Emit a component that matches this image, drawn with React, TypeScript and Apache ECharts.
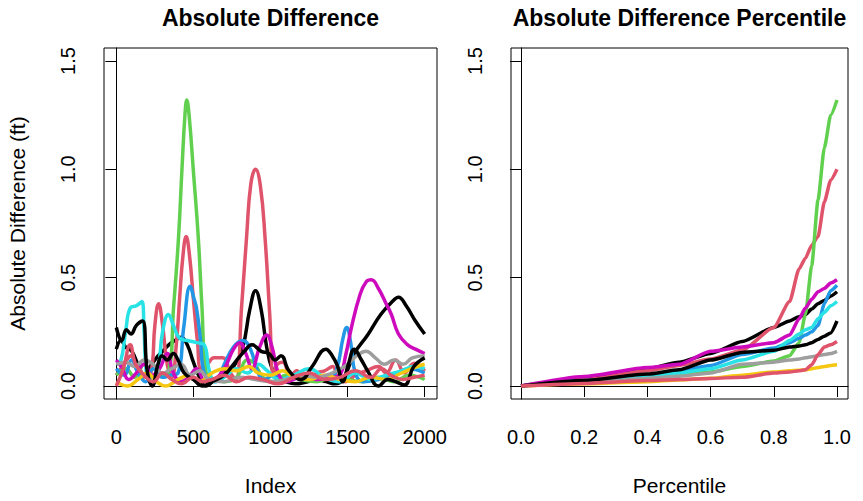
import React, { useEffect, useRef } from 'react';
import * as echarts from 'echarts';

// ---------- tick labels ----------
const indexTicks = [0, 500, 1000, 1500, 2000];
const percentileTicks = [0, 0.2, 0.4, 0.6, 0.8, 1.0];
const diffTicks = [0, 0.5, 1.0, 1.5];

// ---------- series colours (R palette, cycled) ----------
const seriesColors = ['#000000', '#DF536B', '#61D04F', '#2297E6', '#28E2E5', '#CD0BBC', '#F5C710', '#9E9E9E', '#000000', '#DF536B'];

// ---------- left panel: absolute difference vs index ----------
const diffBlackA = [[0,0.17],[30,0.21],[60,0.18],[100,0.16],[140,0.1],[180,0.05],[220,0.09],[260,0.13],[300,0.16],[340,0.19],[380,0.21],[420,0.225],[460,0.19],[500,0.11],[540,0.04],[580,0.0],[640,0.03],[700,0.06],[760,0.09],[820,0.18],[865,0.35],[903,0.44],[940,0.35],[975,0.18],[1010,0.08],[1050,0.04],[1100,0.02],[1160,0.01],[1240,0.02],[1300,0.03],[1360,0.02],[1420,0.01],[1470,0.03],[1544,0.15],[1630,0.235],[1715,0.33],[1790,0.39],[1830,0.41],[1880,0.37],[1940,0.3],[2000,0.24]];
const diffRedA = [[0,0.05],[50,0.1],[95,0.14],[130,0.08],[170,0.04],[224,0.06],[250,0.28],[274,0.38],[300,0.28],[330,0.1],[360,0.04],[390,0.2],[410,0.4],[432,0.6],[453,0.69],[475,0.6],[500,0.4],[527,0.2],[550,0.08],[590,0.1],[634,0.13],[690,0.13],[740,0.06],[775,0.03],[813,0.37],[846,0.7],[872,0.93],[903,1.0],[935,0.92],[965,0.68],[995,0.33],[1020,0.05],[1045,0.1],[1080,0.11],[1130,0.04],[1170,0.07],[1230,0.03],[1300,0.06],[1350,0.07],[1404,0.09],[1440,0.03],[1490,0.02],[1550,0.05],[1620,0.07],[1700,0.09],[1750,0.06],[1812,0.12],[1870,0.06],[1932,0.105],[2000,0.07]];
const diffGreen = [[0,0.05],[60,0.08],[120,0.04],[180,0.1],[230,0.04],[280,0.05],[335,0.06],[372,0.37],[403,0.68],[425,0.99],[445,1.25],[457,1.32],[472,1.25],[500,0.99],[532,0.68],[555,0.37],[583,0.06],[640,0.03],[700,0.02],[780,0.04],[850,0.12],[900,0.1],[950,0.04],[1020,0.02],[1100,0.05],[1200,0.03],[1300,0.02],[1400,0.04],[1500,0.03],[1600,0.02],[1700,0.04],[1800,0.02],[1900,0.05],[2000,0.03]];
const diffBlue = [[0,0.08],[50,0.05],[100,0.12],[140,0.06],[190,0.02],[240,0.08],[300,0.04],[350,0.05],[400,0.06],[437,0.27],[479,0.46],[505,0.4],[520,0.36],[545,0.22],[570,0.06],[640,0.02],[700,0.1],[760,0.18],[821,0.21],[870,0.17],[920,0.06],[960,0.03],[1020,0.05],[1100,0.03],[1200,0.04],[1300,0.05],[1380,0.03],[1430,0.08],[1470,0.22],[1494,0.27],[1520,0.2],[1550,0.06],[1600,0.02],[1700,0.03],[1800,0.05],[1900,0.08],[2000,0.06]];
const diffCyan = [[0,0.1],[30,0.12],[60,0.25],[90,0.36],[130,0.37],[166,0.39],[180,0.25],[195,0.06],[230,0.03],[270,0.08],[300,0.25],[338,0.33],[370,0.28],[410,0.22],[460,0.21],[520,0.2],[570,0.19],[600,0.08],[640,0.02],[700,0.04],[780,0.08],[850,0.06],[920,0.1],[980,0.07],[1050,0.03],[1150,0.05],[1250,0.08],[1350,0.04],[1450,0.02],[1550,0.06],[1650,0.03],[1750,0.05],[1850,0.07],[1930,0.09],[2000,0.08]];
const diffMagenta = [[0,0.12],[40,0.08],[80,0.03],[130,0.06],[180,0.1],[230,0.05],[280,0.08],[330,0.15],[370,0.06],[420,0.02],[470,0.04],[520,0.08],[580,0.02],[640,0.03],[700,0.08],[760,0.17],[800,0.2],[840,0.15],[880,0.08],[930,0.18],[975,0.235],[1010,0.18],[1050,0.06],[1100,0.02],[1200,0.04],[1300,0.03],[1400,0.04],[1449,0.05],[1490,0.15],[1525,0.27],[1580,0.42],[1620,0.48],[1654,0.49],[1700,0.45],[1750,0.38],[1784,0.33],[1830,0.24],[1890,0.19],[1940,0.17],[2000,0.15]];
const diffYellow = [[0,0.02],[70,0.0],[140,0.03],[200,0.06],[260,0.02],[320,0.0],[400,0.03],[470,0.05],[540,0.02],[620,0.06],[700,0.08],[780,0.07],[860,0.09],[920,0.06],[1000,0.05],[1080,0.07],[1150,0.04],[1250,0.03],[1350,0.05],[1450,0.03],[1550,0.02],[1650,0.04],[1750,0.03],[1850,0.06],[1950,0.09],[2000,0.1]];
const diffGray = [[0,0.1],[60,0.11],[120,0.09],[180,0.12],[240,0.1],[300,0.06],[360,0.08],[420,0.1],[480,0.05],[540,0.07],[600,0.03],[700,0.02],[800,0.04],[900,0.03],[1000,0.02],[1100,0.03],[1200,0.05],[1300,0.04],[1400,0.06],[1500,0.1],[1560,0.14],[1620,0.16],[1680,0.13],[1740,0.1],[1800,0.12],[1860,0.1],[1920,0.13],[2000,0.14]];
const diffBlackB = [[0,0.27],[35,0.21],[65,0.26],[95,0.24],[130,0.28],[170,0.3],[200,0.07],[233,0.0],[270,0.1],[297,0.14],[330,0.12],[370,0.15],[400,0.12],[440,0.06],[500,0.03],[560,0.0],[620,0.02],[700,0.05],[760,0.1],[830,0.16],[880,0.19],[940,0.16],[990,0.15],[1030,0.12],[1068,0.14],[1120,0.07],[1198,0.03],[1270,0.09],[1359,0.17],[1400,0.14],[1436,0.09],[1468,0.02],[1505,0.1],[1544,0.17],[1590,0.12],[1630,0.07],[1700,0.0],[1760,0.03],[1810,0.02],[1868,0.005],[1930,0.09],[2000,0.13]];
const diffRedB = [[0,0.0],[45,0.08],[90,0.19],[125,0.1],[180,0.05],[240,0.02],[300,0.06],[360,0.03],[420,0.01],[500,0.04],[560,0.02],[620,0.03],[700,0.05],[780,0.02],[860,0.04],[950,0.03],[1050,0.01],[1150,0.04],[1250,0.06],[1350,0.03],[1450,0.04],[1550,0.07],[1650,0.04],[1720,0.08],[1780,0.05],[1860,0.03],[1930,0.04],[2000,0.05]];

// ---------- right panel: sorted absolute difference vs percentile ----------
const pctLevels = [0, 0.2, 0.4, 0.5, 0.6, 0.7, 0.8, 0.85, 0.88, 0.9, 0.92, 0.94, 0.96, 0.98, 1.0];
const pctBlackA = [0, 0.035, 0.08, 0.11, 0.15, 0.205, 0.27, 0.3, 0.32, 0.33, 0.355, 0.38, 0.395, 0.415, 0.435];
const pctRedA = [0, 0.03, 0.07, 0.095, 0.125, 0.165, 0.27, 0.39, 0.54, 0.59, 0.65, 0.69, 0.85, 0.95, 1.0];
const pctGreen = [0, 0.02, 0.04, 0.05, 0.065, 0.09, 0.115, 0.14, 0.2, 0.33, 0.556, 0.86, 1.1, 1.25, 1.32];
const pctBlue = [0, 0.025, 0.05, 0.07, 0.095, 0.145, 0.175, 0.2, 0.22, 0.235, 0.25, 0.28, 0.38, 0.44, 0.465];
const pctCyan = [0, 0.02, 0.045, 0.06, 0.08, 0.12, 0.16, 0.21, 0.24, 0.26, 0.27, 0.31, 0.34, 0.37, 0.39];
const pctMagenta = [0, 0.044, 0.085, 0.1, 0.16, 0.18, 0.2, 0.235, 0.31, 0.36, 0.4, 0.435, 0.45, 0.475, 0.49];
const pctYellow = [0, 0.01, 0.02, 0.028, 0.036, 0.05, 0.065, 0.07, 0.073, 0.075, 0.08, 0.085, 0.09, 0.095, 0.098];
const pctGray = [0, 0.015, 0.035, 0.045, 0.06, 0.1, 0.11, 0.12, 0.125, 0.13, 0.135, 0.14, 0.145, 0.15, 0.16];
const pctBlackB = [0, 0.025, 0.055, 0.075, 0.12, 0.155, 0.165, 0.18, 0.185, 0.19, 0.2, 0.215, 0.23, 0.245, 0.3];
const pctRedB = [0, 0.012, 0.025, 0.03, 0.035, 0.04, 0.06, 0.065, 0.07, 0.075, 0.098, 0.145, 0.18, 0.19, 0.205];

const diffSeries = [diffBlackA, diffRedA, diffGreen, diffBlue, diffCyan, diffMagenta, diffYellow, diffGray, diffBlackB, diffRedB];
const pctSeries = [pctBlackA, pctRedA, pctGreen, pctBlue, pctCyan, pctMagenta, pctYellow, pctGray, pctBlackB, pctRedB];

const FONT = '"Liberation Sans", Arial, Helvetica, sans-serif';

function xAxisCfg(gridIndex: number, min: number, max: number, ticks: number[], name: string, fmt: (v: number) => string) {
  return {
    type: 'value', gridIndex, min, max, name,
    nameLocation: 'middle', nameGap: 76,
    nameTextStyle: { fontSize: 21, color: '#000', fontFamily: FONT },
    axisLine: { show: true, lineStyle: { color: '#000', width: 1 } },
    splitLine: { show: false },
    axisTick: { show: true, inside: false, length: 11, customValues: ticks, lineStyle: { color: '#000', width: 1 } },
    axisLabel: { show: true, customValues: ticks, formatter: fmt, margin: 28, fontSize: 20, color: '#000', fontFamily: FONT },
  };
}

function yAxisCfg(gridIndex: number, name: string) {
  return {
    type: 'value', gridIndex, min: -0.06, max: 1.56, name,
    nameLocation: 'middle', nameGap: 76, nameRotate: 90,
    nameTextStyle: { fontSize: 21, color: '#000', fontFamily: FONT },
    axisLine: { show: true, lineStyle: { color: '#000', width: 1 } },
    splitLine: { show: false },
    axisTick: { show: true, inside: false, length: 11, customValues: diffTicks, lineStyle: { color: '#000', width: 1 } },
    axisLabel: { show: true, customValues: diffTicks, rotate: 90, formatter: (v: number) => v.toFixed(1), margin: 26, fontSize: 20, color: '#000', fontFamily: FONT },
  };
}

export default function App() {
  const ref = useRef<HTMLDivElement>(null);
  useEffect(() => {
    document.body.style.margin = '0';
    if (!ref.current) return;
    const chart = echarts.init(ref.current, undefined, { renderer: 'svg' });
    const series: any[] = [];
    diffSeries.forEach((d, i) => {
      series.push({
        type: 'line', xAxisIndex: 0, yAxisIndex: 0, data: d,
        showSymbol: false, smooth: 0.45, clip: true,
        lineStyle: { color: seriesColors[i], width: 3.5 }, itemStyle: { color: seriesColors[i] },
      });
    });
    pctSeries.forEach((vals, i) => {
      series.push({
        type: 'line', xAxisIndex: 1, yAxisIndex: 1,
        data: vals.map((v, k) => [pctLevels[k], v]),
        showSymbol: false, smooth: 0.2, smoothMonotone: 'x', clip: true,
        lineStyle: { color: seriesColors[i], width: 3.5 }, itemStyle: { color: seriesColors[i] },
      });
    });
    chart.setOption({
      animation: false,
      backgroundColor: '#fff',
      textStyle: { fontFamily: FONT },
      grid: [
        { left: 104, top: 48, width: 333, height: 353, show: true, borderColor: '#000', borderWidth: 1, backgroundColor: 'transparent', containLabel: false },
        { left: 511, top: 48, width: 337, height: 353, show: true, borderColor: '#000', borderWidth: 1, backgroundColor: 'transparent', containLabel: false },
      ],
      xAxis: [
        xAxisCfg(0, -80, 2080, indexTicks, 'Index', (v: number) => String(v)),
        xAxisCfg(1, -10 / 316, 1 + 11 / 316, percentileTicks, 'Percentile', (v: number) => v.toFixed(1)),
      ],
      yAxis: [yAxisCfg(0, 'Absolute Difference (ft)'), yAxisCfg(1, '')],
      graphic: [
        { type: 'text', x: 270.5, y: 18, style: { text: 'Absolute Difference', fontSize: 23, fontWeight: 'bold', fontFamily: FONT, fill: '#000', textAlign: 'center', textVerticalAlign: 'middle' } },
        { type: 'text', x: 679.5, y: 18, style: { text: 'Absolute Difference Percentile', fontSize: 23, fontWeight: 'bold', fontFamily: FONT, fill: '#000', textAlign: 'center', textVerticalAlign: 'middle' } },
      ],
      series,
    });
    return () => chart.dispose();
  }, []);
  return <div ref={ref} style={{ position: 'fixed', left: 0, top: 0, width: 863, height: 501 }} />;
}
